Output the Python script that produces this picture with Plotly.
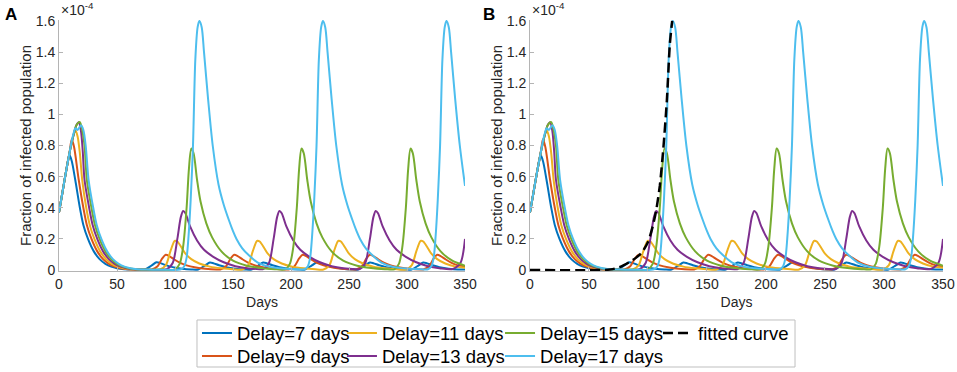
import plotly.graph_objects as go

# ---------------- data (fraction of infected population, in units of 1e-4) -------------
x_ticks = [0, 50, 100, 150, 200, 250, 300, 350]
y_ticks = [0, 0.2, 0.4, 0.6, 0.8, 1.0, 1.2, 1.4, 1.6]
y_ticktext = ["0", "0.2", "0.4", "0.6", "0.8", "1", "1.2", "1.4", "1.6"]

days_d7 = [0, 3, 6, 9, 11, 14, 18, 21, 25, 30, 35, 40, 45, 50, 56, 64,
           74, 80, 84, 87, 92, 98, 106, 114,
           120, 126, 130, 133, 138, 144, 152, 160,
           166, 172, 176, 179, 184, 190, 198, 206,
           212, 218, 222, 225, 230, 236, 244, 252,
           258, 264, 268, 271, 276, 282, 290, 298,
           304, 310, 314, 317, 322, 328, 336, 344, 350]
frac_d7 = [0.37, 0.5, 0.63, 0.74, 0.7, 0.58, 0.4, 0.29, 0.2, 0.12, 0.07, 0.04, 0.022, 0.012, 0.006, 0.003,
           0.004, 0.03, 0.05, 0.046, 0.032, 0.019, 0.009, 0.004,
           0.004, 0.03, 0.048, 0.044, 0.031, 0.019, 0.009, 0.004,
           0.004, 0.03, 0.048, 0.044, 0.031, 0.019, 0.009, 0.004,
           0.004, 0.03, 0.048, 0.044, 0.031, 0.019, 0.009, 0.004,
           0.004, 0.03, 0.048, 0.044, 0.031, 0.019, 0.009, 0.004,
           0.004, 0.03, 0.048, 0.044, 0.031, 0.019, 0.009, 0.004, 0.003]

days_d9 = [0, 3, 6, 9, 11, 13, 17, 21, 24, 28, 33, 38, 43, 48, 53, 59, 67,
           80, 85, 89, 92, 95, 99, 104, 110, 118, 126, 136,
           139, 144, 148, 151, 154, 158, 163, 169, 177, 185, 195,
           198, 203, 207, 210, 213, 217, 222, 228, 236, 244, 254,
           256, 261, 265, 268, 271, 275, 280, 286, 294, 302, 312,
           314, 319, 323, 326, 329, 333, 338, 344, 350]
frac_d9 = [0.37, 0.5, 0.63, 0.75, 0.84, 0.79, 0.58, 0.4, 0.29, 0.2, 0.12, 0.07, 0.04, 0.022, 0.012, 0.006, 0.003,
           0.004, 0.025, 0.075, 0.098, 0.09, 0.07, 0.048, 0.03, 0.017, 0.009, 0.004,
           0.004, 0.025, 0.075, 0.098, 0.09, 0.07, 0.048, 0.03, 0.017, 0.009, 0.004,
           0.004, 0.025, 0.075, 0.098, 0.09, 0.07, 0.048, 0.03, 0.017, 0.009, 0.004,
           0.004, 0.025, 0.075, 0.098, 0.09, 0.07, 0.048, 0.03, 0.017, 0.009, 0.004,
           0.004, 0.025, 0.075, 0.098, 0.09, 0.07, 0.048, 0.03, 0.024]

days_d11 = [0, 3, 6, 9, 11, 13, 14, 16, 18, 20, 23.5, 26.5, 30.5, 35.5, 40.5, 45.5, 50.5, 55.5, 61.5, 69.5,
            87, 92, 96, 99, 100, 102, 106, 109, 114, 121, 130, 140, 150,
            158, 163, 167, 170, 171, 173, 177, 180, 185, 192, 201, 211, 221,
            228, 233, 237, 240, 241, 243, 247, 250, 255, 262, 271, 281, 291,
            299, 304, 308, 311, 312, 314, 318, 321, 326, 333, 342, 350]
frac_d11 = [0.37, 0.5, 0.63, 0.75, 0.82, 0.88, 0.9, 0.86, 0.75, 0.58, 0.4, 0.29, 0.2, 0.12, 0.07, 0.04, 0.022, 0.012, 0.006, 0.003,
            0.004, 0.03, 0.12, 0.18, 0.188, 0.183, 0.14, 0.105, 0.07, 0.042, 0.022, 0.011, 0.005,
            0.004, 0.03, 0.12, 0.18, 0.188, 0.183, 0.14, 0.105, 0.07, 0.042, 0.022, 0.011, 0.005,
            0.004, 0.03, 0.12, 0.18, 0.188, 0.183, 0.14, 0.105, 0.07, 0.042, 0.022, 0.011, 0.005,
            0.004, 0.03, 0.12, 0.18, 0.188, 0.183, 0.14, 0.105, 0.07, 0.042, 0.022, 0.015]

days_d13 = [0, 3, 6, 9, 11, 13, 15, 17, 19, 20.5, 22, 26, 29, 33, 38, 43, 48, 53, 58, 64, 72,
            93, 98, 102, 105, 107, 109, 113, 119, 125, 133, 142, 152, 162, 173,
            176, 181, 185, 188, 190, 192, 196, 202, 208, 216, 225, 235, 245, 256,
            259, 264, 268, 271, 273, 275, 279, 285, 291, 299, 308, 318, 328, 339,
            346, 350]
frac_d13 = [0.37, 0.5, 0.63, 0.75, 0.82, 0.88, 0.93, 0.95, 0.89, 0.76, 0.58, 0.4, 0.29, 0.2, 0.12, 0.07, 0.04, 0.022, 0.012, 0.006, 0.003,
            0.006, 0.045, 0.2, 0.34, 0.38, 0.365, 0.28, 0.19, 0.13, 0.085, 0.05, 0.025, 0.012, 0.006,
            0.006, 0.045, 0.2, 0.34, 0.38, 0.365, 0.28, 0.19, 0.13, 0.085, 0.05, 0.025, 0.012, 0.006,
            0.006, 0.045, 0.2, 0.34, 0.38, 0.365, 0.28, 0.19, 0.13, 0.085, 0.05, 0.025, 0.012, 0.006,
            0.045, 0.2]

days_d15 = [0, 3, 6, 9, 11, 13, 15, 18, 20, 22, 24, 28, 31, 35, 40, 45, 50, 55, 60, 66, 74, 86,
            100, 104, 107, 110, 112, 114, 116, 119, 122, 127, 132, 140, 150, 162, 174, 186,
            195, 199, 202, 205, 207, 209, 211, 214, 217, 222, 227, 235, 245, 257, 269, 281,
            289, 293, 296, 299, 301, 303, 305, 308, 311, 316, 321, 329, 339, 350]
frac_d15 = [0.37, 0.5, 0.63, 0.75, 0.82, 0.88, 0.93, 0.95, 0.9, 0.8, 0.58, 0.4, 0.29, 0.2, 0.12, 0.07, 0.04, 0.022, 0.012, 0.006, 0.003, 0.003,
            0.005, 0.04, 0.15, 0.4, 0.65, 0.78, 0.75, 0.58, 0.44, 0.3, 0.21, 0.12, 0.06, 0.028, 0.013, 0.006,
            0.005, 0.04, 0.15, 0.4, 0.65, 0.78, 0.75, 0.58, 0.44, 0.3, 0.21, 0.12, 0.06, 0.028, 0.013, 0.006,
            0.005, 0.04, 0.15, 0.4, 0.65, 0.78, 0.75, 0.58, 0.44, 0.3, 0.21, 0.12, 0.06, 0.028]

days_d17 = [0, 3, 6, 9, 11, 13, 14, 16, 19, 21, 23, 25.5, 29.5, 32.5, 36.5, 41.5, 46.5, 51.5, 56.5, 61.5, 67.5, 75.5, 90,
            105, 108, 110, 111.5, 113.5, 115.5, 117.5, 119.5, 121, 123, 125, 128.5, 132.5, 137.5, 142, 146.5, 150, 153, 158, 163, 171, 181, 193, 206,
            211.5, 214.5, 216.5, 218, 220, 222, 224, 226, 227.5, 229.5, 231.5, 235, 239, 244, 248.5, 253, 256.5, 259.5, 264.5, 269.5, 277.5, 287.5, 299.5, 312.5,
            318, 321, 323, 324.5, 326.5, 328.5, 330.5, 332.5, 334, 336, 338, 341.5, 345.5, 350]
frac_d17 = [0.37, 0.5, 0.63, 0.75, 0.83, 0.89, 0.91, 0.9, 0.93, 0.9, 0.8, 0.58, 0.4, 0.29, 0.2, 0.12, 0.07, 0.04, 0.022, 0.012, 0.006, 0.003, 0.002,
            0.005, 0.025, 0.08, 0.2, 0.45, 0.8, 1.35, 1.56, 1.6, 1.56, 1.4, 1.1, 0.8, 0.55, 0.42, 0.32, 0.25, 0.2, 0.14, 0.1, 0.05, 0.022, 0.01, 0.005,
            0.005, 0.025, 0.08, 0.2, 0.45, 0.8, 1.35, 1.56, 1.6, 1.56, 1.4, 1.1, 0.8, 0.55, 0.42, 0.32, 0.25, 0.2, 0.14, 0.1, 0.05, 0.022, 0.01, 0.005,
            0.005, 0.025, 0.08, 0.2, 0.45, 0.8, 1.35, 1.56, 1.6, 1.56, 1.4, 1.1, 0.8, 0.54]

days_fit = [0, 62, 66, 70, 75, 80, 85, 90, 95, 100, 104, 107, 110, 113, 116, 118.5, 120.5]
frac_fit = [0, 0, 0.002, 0.006, 0.016, 0.034, 0.054, 0.08, 0.115, 0.18, 0.28, 0.385, 0.54, 0.78, 1.09, 1.45, 1.6]

series_names = ["Delay=7 days", "Delay=9 days", "Delay=11 days",
                "Delay=13 days", "Delay=15 days", "Delay=17 days"]
series_days = [days_d7, days_d9, days_d11, days_d13, days_d15, days_d17]
series_vals = [frac_d7, frac_d9, frac_d11, frac_d13, frac_d15, frac_d17]

# ---------------- styling ----------------
colors = ["#0072BD", "#D95319", "#EDB120", "#7E2F8E", "#77AC30", "#4DBEEE"]
legend_ids = ["legend", "legend2", "legend3", "legend4", "legend5", "legend6"]
FONT = "Liberation Sans, Arial, Helvetica, sans-serif"
TXT = "#262626"
AX = "#b4b4b4"

fig = go.Figure()
for panel, (xa, ya) in enumerate([("x", "y"), ("x2", "y2")]):
    for name, d, v, c, lg in zip(series_names, series_days, series_vals, colors, legend_ids):
        fig.add_trace(go.Scatter(
            x=d, y=v, mode="lines", name=name, xaxis=xa, yaxis=ya,
            line=dict(color=c, width=2, shape="spline", smoothing=0.8),
            showlegend=(panel == 1), legend=lg, hoverinfo="skip"))
fig.add_trace(go.Scatter(
    x=days_fit, y=frac_fit, mode="lines", name="fitted curve", xaxis="x2", yaxis="y2",
    line=dict(color="black", width=2.5, dash="10px,5px", shape="spline", smoothing=0.6),
    legend="legend7", hoverinfo="skip"))

xaxis_style = dict(
    range=[0, 350], tickvals=x_ticks, ticks="inside", ticklen=4, tickcolor=AX,
    showline=True, linecolor=AX, linewidth=1, showgrid=False, zeroline=False,
    tickfont=dict(family=FONT, size=14, color=TXT),
    title=dict(text="Days", font=dict(family=FONT, size=14, color=TXT), standoff=6),
)
yaxis_style = dict(
    range=[-0.006, 1.606], tickvals=y_ticks, ticktext=y_ticktext, ticks="inside", ticklen=4,
    tickcolor=AX, showline=True, linecolor=AX, linewidth=1, showgrid=False, zeroline=False,
    tickfont=dict(family=FONT, size=14, color=TXT),
    title=dict(text="Fraction of infected population", font=dict(family=FONT, size=15, color=TXT), standoff=0),
)

legend_base = dict(orientation="v", xanchor="left", yanchor="top",
                   bgcolor="rgba(0,0,0,0)", borderwidth=0,
                   font=dict(family=FONT, size=18.5, color="black"))
row1_y, row2_y = -0.1733, -0.2649
col_x = [0.1561, 0.3201, 0.4989, 0.6776]

fig.update_layout(
    width=957, height=372,
    margin=dict(l=59, r=14, t=20, b=101, autoexpand=False),
    paper_bgcolor="white", plot_bgcolor="white",
    font=dict(family=FONT, color=TXT),
    xaxis=dict(domain=[0, 0.4593], **xaxis_style),
    xaxis2=dict(domain=[0.5328, 1.0], **xaxis_style),
    yaxis=dict(anchor="x", **yaxis_style),
    yaxis2=dict(anchor="x2", **yaxis_style),
    legend=dict(x=col_x[0], y=row1_y, **legend_base),
    legend2=dict(x=col_x[0], y=row2_y, **legend_base),
    legend3=dict(x=col_x[1], y=row1_y, **legend_base),
    legend4=dict(x=col_x[1], y=row2_y, **legend_base),
    legend5=dict(x=col_x[2], y=row1_y, **legend_base),
    legend6=dict(x=col_x[2], y=row2_y, **legend_base),
    legend7=dict(x=col_x[3], y=row1_y, **legend_base),
    shapes=[dict(type="rect", xref="paper", yref="paper", x0=0.1561, x1=0.8326,
                 y0=-0.3825, y1=-0.1952, line=dict(color="#bfbfbf", width=1),
                 fillcolor="rgba(0,0,0,0)")],
    annotations=[
        dict(text="<b>A</b>", xref="paper", yref="paper", x=-0.0543, y=1.0239,
             xanchor="center", yanchor="middle", showarrow=False,
             font=dict(family=FONT, size=17, color="black")),
        dict(text="<b>B</b>", xref="paper", yref="paper", x=0.4859, y=1.0239,
             xanchor="center", yanchor="middle", showarrow=False,
             font=dict(family=FONT, size=17, color="black")),
        dict(text="×10<sup>-4</sup>", xref="x domain", yref="paper", x=0.0, y=1.0,
             xanchor="left", yanchor="bottom", showarrow=False,
             font=dict(family=FONT, size=14, color=TXT)),
        dict(text="×10<sup>-4</sup>", xref="x2 domain", yref="paper", x=0.0, y=1.0,
             xanchor="left", yanchor="bottom", showarrow=False,
             font=dict(family=FONT, size=14, color=TXT)),
    ],
)

fig.write_html("out.html", config={"displayModeBar": False},
               post_script="document.body.style.margin='0';")
